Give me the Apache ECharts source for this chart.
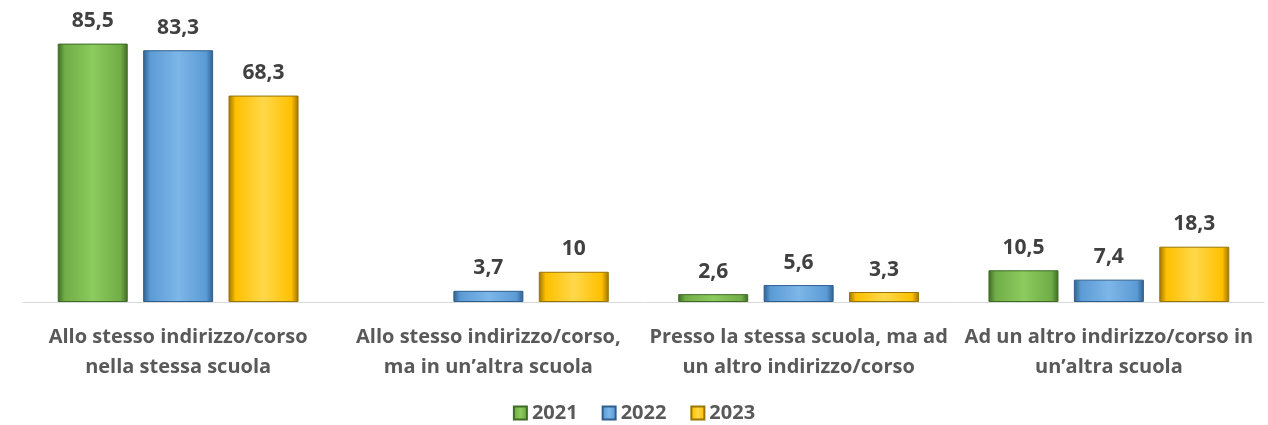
<!DOCTYPE html>
<html><head><meta charset="utf-8">
<script src="https://cdn.jsdelivr.net/npm/echarts@6/dist/echarts.min.js"></script>
<style>html,body{margin:0;padding:0;background:#fff}#c{width:1268px;height:425px}</style>
</head><body><div id="c"></div>
<script>
var categories = ['Allo stesso indirizzo/corso\nnella stessa scuola', 'Allo stesso indirizzo/corso,\nma in un\u2019altra scuola', 'Presso la stessa scuola, ma ad\nun altro indirizzo/corso', 'Ad un altro indirizzo/corso in\nun\u2019altra scuola'];
var seriesNames = ['2021', '2022', '2023'];
var v2021 = [85.5, null, 2.6, 10.5];
var v2022 = [83.3, 3.7, 5.6, 7.4];
var v2023 = [68.3, 10, 3.3, 18.3];

var palettes = [
  {base:'#70AD47', light:'#8CCB5E', dark:'#3F6B25'},
  {base:'#5B9BD5', light:'#7DB6E8', dark:'#2F5F8E'},
  {base:'#FFC000', light:'#FFD84A', dark:'#9A7400'}
];
function grad(p){
  return new echarts.graphic.LinearGradient(0,0,1,0,[
    {offset:0,color:p.dark},{offset:0.1,color:p.base},{offset:0.5,color:p.light},{offset:0.9,color:p.base},{offset:1,color:p.dark}]);
}
var font = '"Open Sans", sans-serif';
var data = [v2021, v2022, v2023];
var chart = echarts.init(document.getElementById('c'));
chart.setOption({
  animation:false,
  grid:{left:23,right:4,top:30,bottom:123,containLabel:false},
  legend:{top:398,left:'center',itemWidth:13,itemHeight:13,itemGap:24,icon:'rect',
    textStyle:{fontFamily:font,fontWeight:'bold',fontSize:20,color:'#595959'},
    data:seriesNames},
  xAxis:{type:'category',data:categories,
    axisLine:{lineStyle:{color:'#D9D9D9',width:1}},axisTick:{show:false},
    axisLabel:{interval:0,fontFamily:font,fontWeight:'bold',fontSize:20,color:'#595959',lineHeight:30,margin:20}},
  yAxis:{type:'value',min:0,max:90,show:false,splitLine:{show:false}},
  series:data.map(function(d,i){return {
    name:seriesNames[i],type:'bar',data:d,barWidth:70,barGap:'22%',
    itemStyle:{color:grad(palettes[i]),borderColor:palettes[i].dark,borderWidth:1},
    label:{show:true,position:'top',distance:12,fontFamily:font,fontWeight:'bold',fontSize:21,color:'#404040',
      formatter:function(p){return String(p.value).replace('.',',');}}
  };})
});
</script></body></html>
